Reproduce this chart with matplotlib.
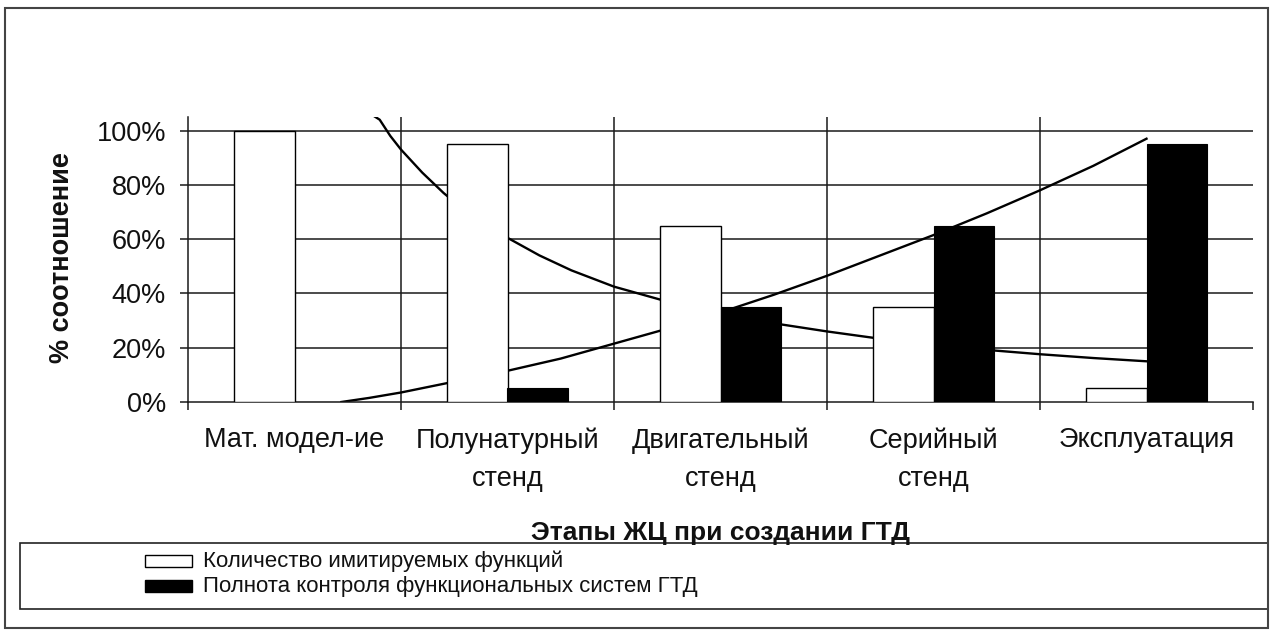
import numpy as np
import matplotlib
matplotlib.use('Agg')
import matplotlib.pyplot as plt
from matplotlib.patches import Rectangle

plt.rcParams['font.family'] = ['Liberation Sans', 'DejaVu Sans']

# данные (в процентах)
stages = ['Мат. модел-ие', 'Полунатурный\nстенд', 'Двигательный\nстенд',
          'Серийный\nстенд', 'Эксплуатация']
imit_funcs = [100, 95, 65, 35, 5]
control_full = [0, 5, 35, 65, 95]

# линии тренда (положение по оси категорий, значение %)
trend_down_x = [1.37, 1.40, 1.45, 1.5, 1.6, 1.7, 1.8, 1.9, 2.0, 2.15, 2.3, 2.5,
                2.75, 3.0, 3.25, 3.5, 3.75, 4.0, 4.25, 4.5, 4.75, 5.0]
trend_down_y = [105.5, 104, 98, 93, 84.5, 77, 70.5, 65, 60.5, 54, 48.5, 42.5,
                37, 32.5, 29, 26, 23.3, 21, 19.2, 17.6, 16.2, 15]
trend_up_x = [1.22, 1.35, 1.5, 1.75, 2.0, 2.25, 2.5, 2.75, 3.0, 3.25, 3.5,
              3.75, 4.0, 4.25, 4.5, 4.75, 5.0]
trend_up_y = [0, 1.5, 3.5, 7.5, 11.5, 16, 21.5, 27, 33, 39.5, 46.5,
              54, 61.5, 69.5, 78, 87, 97]

legend_labels = ['Количество имитируемых функций',
                 'Полнота контроля функциональных систем ГТД']

W, H = 1272, 632
fig = plt.figure(figsize=(W / 100, H / 100), dpi=100)
ax = fig.add_axes([188 / W, 1 - 402 / H, (1253 - 188) / W, (402 - 117) / H])

x = np.arange(1, len(stages) + 1)
w = 0.286
line_col = '#1a1a1a'

ax.bar(x - w / 2, imit_funcs, width=w, color='white', edgecolor='black',
       linewidth=1.0, zorder=3)
ax.bar(x + w / 2, control_full, width=w, color='black', edgecolor='black',
       linewidth=0.8, zorder=3)

ax.plot(trend_down_x, trend_down_y, color='black', lw=1.7, zorder=2)
ax.plot(trend_up_x, trend_up_y, color='black', lw=1.7, zorder=2)

# сетка
for yv in range(20, 101, 20):
    ax.axhline(yv, color=line_col, lw=1.1, zorder=1)
for xv in x[:-1] + 0.5:
    ax.axvline(xv, color=line_col, lw=1.1, zorder=1)

ax.set_xlim(0.5, len(stages) + 0.5)
ax.set_ylim(0, 105)
ax.set_yticks(range(0, 101, 20))
ax.set_yticklabels([f'{v}%' for v in range(0, 101, 20)])
ax.set_xticks(x)
ax.set_xticklabels(stages, linespacing=1.6)
ax.set_xticks(np.arange(0.5, len(stages) + 1, 1.0), minor=True)

for s in ['top', 'right']:
    ax.spines[s].set_visible(False)
for s in ['left', 'bottom']:
    ax.spines[s].set_linewidth(1.1)
    ax.spines[s].set_color(line_col)

ax.tick_params(axis='y', direction='out', length=5.8, width=1.1, color=line_col,
               labelsize=19.5, pad=10, labelcolor='#111')
ax.tick_params(axis='x', which='major', length=0, labelsize=19.5, pad=18,
               labelcolor='#111')
ax.tick_params(axis='x', which='minor', direction='out', length=5.8, width=1.1,
               color=line_col)

fig.text(720.5 / W, 1 - 540 / H, 'Этапы ЖЦ при создании ГТД', ha='center',
         va='baseline', fontsize=19, fontweight='bold', color='#111')
fig.text(62 / W, 1 - 258 / H, '% соотношение', rotation=90, ha='center',
         va='center', fontsize=19.5, fontweight='bold', color='#111')

# легенда
fig.add_artist(Rectangle((20 / W, 1 - 609 / H), (1268 - 20) / W, 66 / H,
                         transform=fig.transFigure, fill=False,
                         edgecolor='#222', lw=1.2))
fig.add_artist(Rectangle((145 / W, 1 - 567 / H), 47 / W, 12 / H,
                         transform=fig.transFigure, facecolor='white',
                         edgecolor='black', lw=1.0))
fig.add_artist(Rectangle((145 / W, 1 - 592 / H), 47 / W, 12 / H,
                         transform=fig.transFigure, facecolor='black',
                         edgecolor='black', lw=1.0))
fig.text(203 / W, 1 - 567 / H, legend_labels[0], va='baseline', fontsize=16,
         color='#111')
fig.text(203 / W, 1 - 592 / H, legend_labels[1], va='baseline', fontsize=16,
         color='#111')

# рамка вокруг диаграммы
fig.add_artist(Rectangle((5 / W, 1 - 628 / H), 1263 / W, 620 / H,
                         transform=fig.transFigure, fill=False,
                         edgecolor='#444', lw=1.5))

fig.savefig('out.png', dpi=100)
